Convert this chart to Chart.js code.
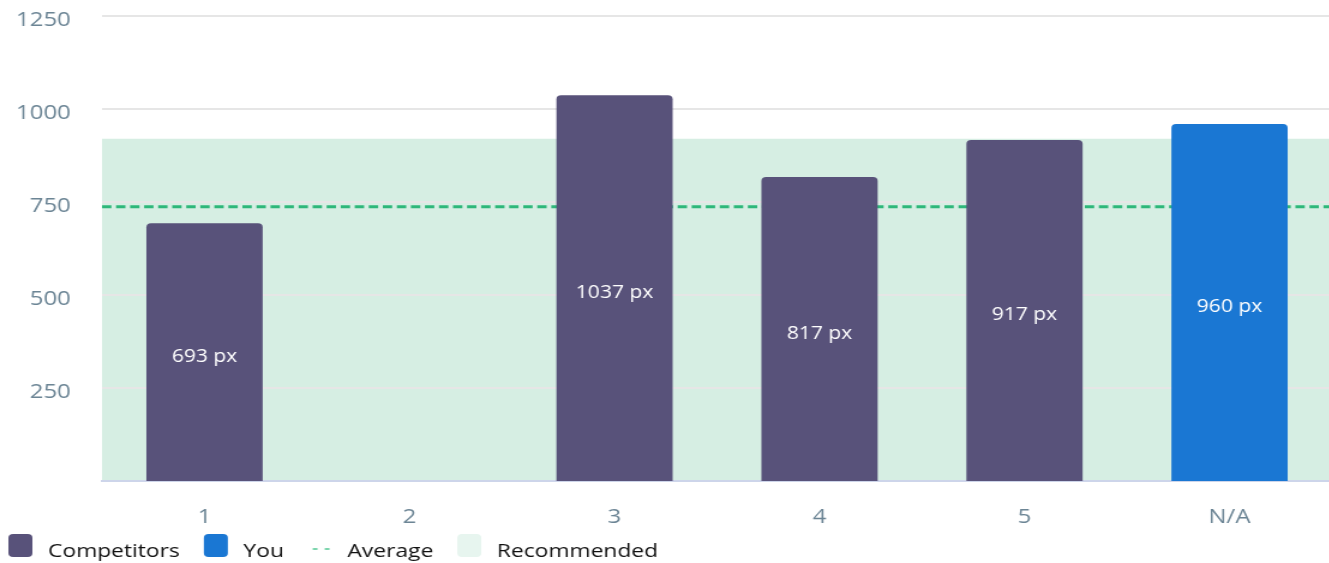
<!DOCTYPE html>
<html>
<head>
<meta charset="utf-8">
<script src="https://cdn.jsdelivr.net/npm/chart.js@4.4.1/dist/chart.umd.min.js"></script>
<style>
  html, body { margin: 0; padding: 0; background: #ffffff; overflow: hidden; }
  #wrap {
    position: absolute; left: 0; top: 0;
    width: 1110px; height: 563px;
    transform: scaleX(1.2); transform-origin: 0 0;
  }
</style>
</head>
<body>
<div id="wrap"><canvas id="chart"></canvas></div>
<script>
// Image widths per page slot
const categories = ['1', '2', '3', '4', '5', 'N/A'];
const competitorValues = [693, null, 1037, 817, 917, null];
const yourValues = [null, null, null, null, null, 960];
const averageValue = 737;
const recommendedRange = [0, 920];
const yTickValues = [250, 500, 750, 1000, 1250];

const COLORS = {
  competitors: '#58527a',
  you: '#1a77d3',
  average: '#2eb77a',
  averageLegend: '#52c892',
  band: '#d6eee3',
  bandLegend: '#e7f5ef',
  grid: '#e6e6e6',
  axis: '#cdd5ea',
  tick: '#6c8595',
  legendText: '#111111'
};
const FONT = "'Open Sans', 'DejaVu Sans', sans-serif";

// Recommended band and average line, drawn under the bars
const referencePlugin = {
  id: 'reference',
  beforeDraw(chart) {
    const { ctx, chartArea, scales } = chart;
    const y = scales.y;
    const top = y.getPixelForValue(recommendedRange[1]);
    const bottom = y.getPixelForValue(recommendedRange[0]);
    ctx.save();
    ctx.fillStyle = COLORS.band;
    ctx.fillRect(chartArea.left, top, chartArea.right - chartArea.left, bottom - top);
    ctx.restore();
  },
  beforeDatasetsDraw(chart) {
    const { ctx, chartArea, scales } = chart;
    const py = scales.y.getPixelForValue(averageValue);
    ctx.save();
    ctx.strokeStyle = COLORS.average;
    ctx.lineWidth = 3;
    ctx.setLineDash([7.8, 3.9]);
    ctx.beginPath();
    ctx.moveTo(chartArea.left, py);
    ctx.lineTo(chartArea.right, py);
    ctx.stroke();
    ctx.restore();
  }
};

// "NNN px" labels centred inside each bar
const barLabelPlugin = {
  id: 'barLabels',
  afterDatasetsDraw(chart) {
    const { ctx } = chart;
    ctx.save();
    ctx.fillStyle = '#ffffff';
    ctx.font = `17.5px ${FONT}`;
    ctx.textAlign = 'center';
    ctx.textBaseline = 'middle';
    chart.data.datasets.forEach((ds, di) => {
      const meta = chart.getDatasetMeta(di);
      meta.data.forEach((bar, i) => {
        const v = ds.data[i];
        if (v === null || v === undefined) return;
        ctx.fillText(`${v} px`, bar.x, (bar.y + bar.base) / 2 + 5);
      });
    });
    ctx.restore();
  }
};

// Legend row along the bottom edge
const legendPlugin = {
  id: 'bottomLegend',
  afterDraw(chart) {
    const { ctx } = chart;
    const ds = chart.data.datasets;
    const entries = [
      { label: ds[0].label, kind: 'box', color: ds[0].backgroundColor },
      { label: ds[1].label, kind: 'box', color: ds[1].backgroundColor },
      { label: 'Average', kind: 'dash', color: COLORS.averageLegend },
      { label: 'Recommended', kind: 'box', color: COLORS.bandLegend }
    ];
    const boxW = 20, boxH = 23, boxTop = 534, textGap = 13, itemGap = 20;
    const textY = 552;
    let x = 7;
    ctx.save();
    ctx.font = `19px ${FONT}`;
    ctx.textBaseline = 'middle';
    ctx.textAlign = 'left';
    entries.forEach(e => {
      if (e.kind === 'box') {
        ctx.fillStyle = e.color;
        ctx.beginPath();
        ctx.roundRect(x, boxTop, boxW, boxH, 4);
        ctx.fill();
      } else {
        ctx.strokeStyle = e.color;
        ctx.lineWidth = 1.5;
        ctx.setLineDash([4, 6]);
        ctx.beginPath();
        ctx.moveTo(x + 4, 549);
        ctx.lineTo(x + 19, 549);
        ctx.stroke();
        ctx.setLineDash([]);
      }
      const tx = x + boxW + textGap;
      ctx.fillStyle = COLORS.legendText;
      ctx.fillText(e.label, tx, textY);
      x = tx + ctx.measureText(e.label).width + itemGap;
    });
    ctx.restore();
  }
};

new Chart(document.getElementById('chart'), {
  type: 'bar',
  data: {
    labels: categories,
    datasets: [
      {
        label: 'Competitors',
        data: competitorValues,
        backgroundColor: COLORS.competitors,
        borderRadius: { topLeft: 4, topRight: 4, bottomLeft: 0, bottomRight: 0 },
        borderSkipped: 'bottom',
        grouped: false,
        barPercentage: 0.567,
        categoryPercentage: 1
      },
      {
        label: 'You',
        data: yourValues,
        backgroundColor: COLORS.you,
        borderRadius: { topLeft: 4, topRight: 4, bottomLeft: 0, bottomRight: 0 },
        borderSkipped: 'bottom',
        grouped: false,
        barPercentage: 0.567,
        categoryPercentage: 1
      }
    ]
  },
  options: {
    responsive: true,
    maintainAspectRatio: false,
    animation: false,
    layout: { padding: { top: 16, right: 0, left: 0, bottom: 0 } },
    plugins: {
      legend: { display: false },
      tooltip: { enabled: false }
    },
    scales: {
      x: {
        grid: { display: false, drawTicks: false },
        border: { display: true, color: COLORS.axis, width: 2 },
        ticks: {
          color: COLORS.tick,
          font: { family: FONT, size: 20 },
          padding: 24
        },
        afterFit(scale) {
          scale.height = 82;
          scale.paddingLeft = 0;
          scale.paddingRight = 0;
        }
      },
      y: {
        min: 0,
        max: 1250,
        afterBuildTicks(scale) {
          scale.ticks = yTickValues.map(v => ({ value: v }));
        },
        grid: { color: COLORS.grid, lineWidth: 2, drawTicks: false },
        border: { display: false },
        ticks: {
          color: COLORS.tick,
          font: { family: FONT, size: 20 },
          padding: 26,
          labelOffset: 4,
          callback: v => String(v)
        },
        afterFit(scale) {
          scale.width = 85;
          scale.paddingTop = 0;
          scale.paddingBottom = 0;
        }
      }
    }
  },
  plugins: [referencePlugin, barLabelPlugin, legendPlugin]
});
</script>
</body>
</html>
